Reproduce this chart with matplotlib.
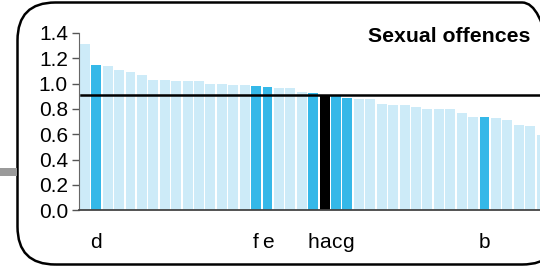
import matplotlib
matplotlib.use("Agg")
import matplotlib.pyplot as plt
from matplotlib.patches import FancyBboxPatch, Rectangle

plt.rcParams['font.family'] = ['Liberation Sans', 'DejaVu Sans']

values = [1.31, 1.15, 1.14, 1.11, 1.09, 1.07, 1.03, 1.03, 1.02, 1.02,
          1.02, 1.00, 1.00, 0.99, 0.99, 0.98, 0.975, 0.967, 0.967, 0.936,
          0.928, 0.91, 0.90, 0.89, 0.88, 0.875, 0.843, 0.833, 0.833, 0.817,
          0.80, 0.796, 0.796, 0.77, 0.74, 0.74, 0.725, 0.71, 0.675, 0.667,
          0.595]
highlight_idx = [1, 15, 16, 20, 22, 23, 35]
black_idx = [21]
label_idx = [1, 15, 16, 20, 21, 22, 23, 35]
labels = ['d', 'f', 'e', 'h', 'a', 'c', 'g', 'b']
average = 0.91
yticks = [0.0, 0.2, 0.4, 0.6, 0.8, 1.0, 1.2, 1.4]
title = 'Sexual offences'

light = '#CDEBF8'
dark = '#35B8E8'

W, H = 540, 270
fig = plt.figure(figsize=(W / 100, H / 100), dpi=100)

# rounded frame
box = FancyBboxPatch((17.5 / W, 5.5 / H), (560 - 17.5) / W, (267.5 - 5.5) / H,
                     boxstyle="round,pad=0,rounding_size=0.07",
                     transform=fig.transFigure, fill=False, edgecolor='black',
                     linewidth=1.8, mutation_aspect=2.0)
fig.patches.append(box)
fig.patches.append(Rectangle((0, (270 - 175.5) / H), 17 / W, 7.5 / H,
                             transform=fig.transFigure, facecolor='#9a9a9a',
                             edgecolor='none'))

ax_left, ax_right = 79, 560
ax_top, ax_bottom = 33, 210.3
ax = fig.add_axes([ax_left / W, (H - ax_bottom) / H,
                   (ax_right - ax_left) / W, (ax_bottom - ax_top) / H])
ax.patch.set_alpha(0)

pitch = 11.42
x0 = -(84.8 - ax_left) / pitch
ax.set_xlim(x0, x0 + (ax_right - ax_left) / pitch)
ax.set_ylim(0, 1.4)

colors = []
for i in range(len(values)):
    if i in black_idx:
        colors.append('black')
    elif i in highlight_idx:
        colors.append(dark)
    else:
        colors.append(light)
ax.bar(range(len(values)), values, width=0.87, color=colors, zorder=2)
ax.plot([-0.35, len(values) + 2], [average, average], color='black', lw=1.8, zorder=3)

ax.set_yticks(yticks)
ax.set_yticklabels([f'{v:.1f}' for v in yticks], fontsize=15)
ax.set_xticks(label_idx)
ax.set_xticklabels(labels, fontsize=15)
ax.tick_params(axis='x', length=0, pad=16)
ax.tick_params(axis='y', length=5, width=1, color='#555555', pad=3)
for s in ['top', 'right']:
    ax.spines[s].set_visible(False)
ax.spines['left'].set_color('#666666')
ax.spines['bottom'].set_color('#444444')
ax.spines['bottom'].set_linewidth(1.3)

fig.text(530 / W, (H - 37) / H, title, ha='right', va='center',
         fontsize=15.3, fontweight='bold')

fig.savefig('out.png', dpi=100)
